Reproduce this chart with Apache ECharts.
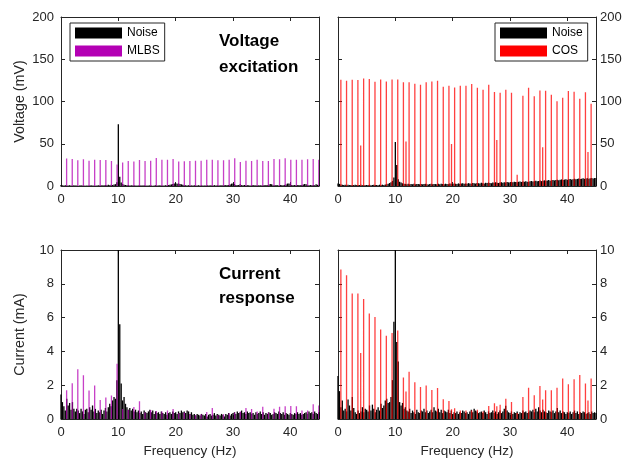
<!DOCTYPE html>
<html>
<head>
<meta charset="utf-8">
<script src="https://cdn.jsdelivr.net/npm/echarts@6/dist/echarts.min.js"></script>
<style>
  html, body { margin: 0; padding: 0; background: #fff; }
  #chart { width: 635px; height: 463px; }
</style>
</head>
<body>
<div id="chart"></div>
<script>
// Amplitude spectra of the excitation voltage and the current response
// for a multisine (COS) and an MLBS excitation, each with background noise.

// Noise spectra are sampled on a regular grid of bins starting at 0 Hz.
const NOISE_BIN_HZ = 0.25;

// Noise, voltage (mV) — MLBS run
const noiseVoltMlbs = [
  1.2, 0.8, 0.6, 1.0, 0.7, 0.5, 0.9, 0.6, 0.4, 0.8, 0.5, 0.7, 0.4, 0.6, 0.9, 0.5, 0.6, 0.4, 0.7, 0.5,
  0.6, 0.9, 0.5, 0.7, 0.4, 0.6, 0.8, 0.5, 1.0, 0.7, 0.9, 1.2, 0.8, 1.4, 1.0, 1.6, 1.2, 1.8, 2.2, 4.5,
  73, 11, 4.2, 2.4, 1.6, 1.2, 0.9, 1.1, 0.7, 0.8, 0.6, 0.9, 0.5, 0.7, 0.6, 0.8, 0.5, 0.6, 0.9, 0.5,
  0.7, 0.5, 0.8, 0.6, 0.4, 0.7, 0.9, 0.5, 0.6, 0.8, 0.5, 0.7, 0.6, 0.9, 0.7, 1.1, 1.4, 1.9, 2.4, 2.9,
  3.2, 2.8, 3.0, 2.4, 2.0, 1.5, 1.0, 0.8, 0.6, 0.9, 0.5, 0.7, 0.6, 0.8, 0.5, 0.7, 0.9, 0.6, 0.8, 0.5,
  0.7, 0.6, 0.9, 0.5, 0.8, 0.6, 0.7, 1.0, 0.6, 0.8, 0.5, 0.9, 0.7, 1.0, 0.8, 1.1, 0.9, 1.3, 1.8, 2.8,
  3.0, 2.4, 1.2, 0.9, 1.1, 2.0, 1.0, 0.8, 1.2, 0.7, 0.9, 1.0, 0.6, 0.8, 1.1, 0.7, 0.9, 0.6, 1.0, 0.8,
  0.7, 1.0, 0.8, 1.1, 0.9, 1.6, 2.5, 2.2, 1.0, 0.8, 1.2, 0.9, 0.7, 1.1, 0.8, 1.0, 1.3, 1.9, 2.9, 3.0,
  2.4, 1.2, 0.9, 1.1, 0.8, 1.0, 1.3, 0.9, 1.2, 1.8, 2.5, 2.0, 1.0, 0.9, 1.1, 0.8, 1.2, 1.0, 2.0, 1.4,
  1.0
];

// Noise, voltage (mV) — COS run
const noiseVoltCos = [
  3.0, 2.5, 1.8, 1.5, 1.2, 1.6, 1.0, 1.4, 1.1, 1.3, 0.9, 1.2, 1.5, 1.0, 1.3, 1.1, 1.4, 0.9, 1.2, 1.0,
  1.3, 1.1, 1.5, 1.0, 1.2, 1.4, 1.1, 1.3, 1.0, 1.5, 1.2, 1.6, 1.3, 1.8, 2.2, 2.8, 3.5, 4.5, 6.0, 10.0,
  52, 25, 8.0, 5.0, 4.0, 3.2, 2.8, 2.5, 2.2, 2.6, 2.0, 2.4, 2.1, 2.6, 2.0, 2.3, 2.5, 2.1, 2.4, 2.0,
  2.3, 2.6, 2.2, 1.9, 2.4, 2.7, 2.1, 2.5, 2.3, 2.0, 2.6, 2.2, 2.8, 2.4, 2.1, 2.7, 2.5, 2.2, 2.9, 2.6,
  2.4, 3.0, 2.7, 2.5, 3.1, 2.6, 2.9, 3.3, 2.7, 3.0, 2.8, 3.4, 3.1, 2.8, 3.5, 3.2, 2.9, 3.6, 3.3, 3.0,
  3.7, 3.4, 3.1, 3.8, 3.5, 4.1, 3.6, 3.3, 4.0, 3.7, 4.3, 3.9, 3.6, 4.2, 4.5, 3.9, 4.4, 4.1, 4.7, 4.3,
  4.0, 4.8, 4.5, 5.1, 4.6, 4.3, 5.0, 5.4, 4.8, 5.2, 4.9, 5.6, 5.1, 4.8, 5.5, 5.9, 5.3, 5.7, 6.1, 5.5,
  5.9, 6.4, 5.8, 6.2, 6.7, 6.1, 6.5, 7.0, 6.3, 6.8, 7.2, 6.6, 7.0, 7.5, 6.9, 7.3, 7.8, 7.1, 7.6, 8.0,
  7.4, 7.9, 8.3, 7.6, 8.1, 8.6, 7.9, 8.4, 8.8, 8.2, 8.7, 9.1, 8.5, 8.9, 9.3, 8.7, 9.2, 9.6, 9.0, 9.4,
  9.5
];

// Noise, current (mA) — MLBS run
const noiseCurMlbs = [
  1.45, 1.0, 0.75, 0.5, 1.2, 0.8, 0.95, 0.55, 1.0, 0.6, 0.45, 0.6, 0.5, 0.35, 0.6, 0.45, 0.3, 0.55, 0.6, 0.4,
  0.7, 0.55, 0.8, 0.45, 0.6, 0.35, 0.5, 0.4, 0.55, 0.3, 0.5, 0.65, 0.45, 0.7, 0.9, 0.75, 1.1, 1.3, 1.2, 2.3,
  12, 5.6, 2.1, 1.1, 1.3, 0.9, 0.7, 0.55, 0.65, 0.5, 0.6, 0.45, 0.55, 0.4, 0.5, 0.35, 0.45, 0.3, 0.5, 0.4,
  0.35, 0.45, 0.55, 0.4, 0.5, 0.3, 0.45, 0.35, 0.4, 0.3, 0.45, 0.35, 0.3, 0.4, 0.25, 0.35, 0.4, 0.3, 0.45, 0.35,
  0.4, 0.3, 0.45, 0.35, 0.5, 0.4, 0.45, 0.35, 0.5, 0.45, 0.3, 0.4, 0.25, 0.3, 0.2, 0.3, 0.25, 0.2, 0.3, 0.25,
  0.2, 0.3, 0.15, 0.25, 0.3, 0.2, 0.25, 0.35, 0.2, 0.3, 0.25, 0.2, 0.3, 0.25, 0.15, 0.3, 0.25, 0.35, 0.2, 0.3,
  0.35, 0.4, 0.3, 0.45, 0.35, 0.4, 0.5, 0.35, 0.4, 0.3, 0.45, 0.35, 0.4, 0.3, 0.35, 0.25, 0.4, 0.3, 0.35, 0.45,
  0.3, 0.4, 0.25, 0.35, 0.3, 0.4, 0.35, 0.25, 0.3, 0.4, 0.35, 0.3, 0.45, 0.35, 0.3, 0.4, 0.25, 0.35, 0.3, 0.25,
  0.35, 0.3, 0.25, 0.35, 0.3, 0.4, 0.3, 0.35, 0.25, 0.3, 0.35, 0.4, 0.3, 0.45, 0.35, 0.4, 0.3, 0.45, 0.35, 0.3,
  0.4
];

// Noise, current (mA) — COS run
const noiseCurCos = [
  2.55, 1.65, 0.7, 1.1, 0.5, 0.6, 0.45, 1.15, 0.8, 0.5, 1.3, 0.65, 0.4, 0.3, 0.5, 0.35, 0.45, 0.7, 0.4, 0.6,
  0.55, 0.45, 0.8, 0.5, 0.85, 0.6, 0.4, 0.55, 0.7, 0.5, 0.9, 0.65, 0.8, 1.1, 1.2, 0.95, 1.0, 1.3, 2.3, 5.75,
  12, 4.55, 3.4, 1.0, 0.8, 0.95, 0.6, 0.7, 0.5, 0.45, 0.6, 0.35, 0.5, 0.4, 0.3, 0.55, 0.4, 0.35, 0.5, 0.45,
  0.6, 0.4, 0.5, 0.35, 0.45, 0.55, 0.4, 0.7, 0.5, 0.45, 0.6, 0.4, 0.55, 0.35, 0.5, 0.45, 0.4, 0.55, 0.35, 0.5,
  0.3, 0.4, 0.35, 0.45, 0.3, 0.4, 0.35, 0.5, 0.45, 0.35, 0.4, 0.3, 0.45, 0.55, 0.4, 0.6, 0.5, 0.45, 0.35, 0.4,
  0.45, 0.35, 0.5, 0.4, 0.3, 0.45, 0.35, 0.4, 0.5, 0.35, 0.45, 0.3, 0.4, 0.5, 0.35, 0.45, 0.6, 0.78, 0.5, 0.4,
  0.35, 0.45, 0.3, 0.4, 0.35, 0.45, 0.3, 0.4, 0.35, 0.5, 0.4, 0.45, 0.35, 0.4, 0.5, 0.45, 0.55, 0.4, 0.6, 0.45,
  0.7, 0.5, 0.4, 0.55, 0.45, 0.4, 0.35, 0.5, 0.45, 0.4, 0.5, 0.35, 0.45, 0.65, 0.4, 0.5, 0.35, 0.45, 0.4, 0.3,
  0.4, 0.35, 0.45, 0.3, 0.4, 0.5, 0.35, 0.45, 0.3, 0.4, 0.35, 0.45, 0.4, 0.3, 0.35, 0.4, 0.3, 0.45, 0.35, 0.4,
  0.35
];

// MLBS harmonic lines (Hz) and their amplitudes
const mlbsFreq = [
  0.98, 1.96, 2.93, 3.91, 4.89, 5.87, 6.84, 7.82, 8.8, 9.78,
  10.75, 11.73, 12.71, 13.69, 14.66, 15.64, 16.62, 17.6, 18.57, 19.55,
  20.53, 21.51, 22.48, 23.46, 24.44, 25.42, 26.39, 27.37, 28.35, 29.33,
  30.3, 31.28, 32.26, 33.24, 34.21, 35.19, 36.17, 37.15, 38.12, 39.1,
  40.08, 41.06, 42.03, 43.01, 43.99, 44.97
];
const mlbsVolt = [
  32.4, 32, 30.4, 31.6, 30, 31.2, 30.8, 30.8, 29.6, 25.3,
  27.7, 29.6, 28.9, 30.8, 29.6, 30, 33.2, 31.2, 31.2, 32,
  28.9, 29.2, 29.6, 30, 30, 31.2, 31.2, 30.4, 30.4, 31.2,
  32.8, 28.5, 30, 29.6, 31.2, 29.6, 29.6, 32, 31.6, 32.8,
  31.2, 31.2, 31.2, 31.6, 32, 31.2
];
const mlbsCur = [
  1.7, 2.12, 2.95, 2.59, 1.68, 1.98, 1.13, 1.27, 1.39, 3.27,
  0.59, 0.53, 0.71, 1.05, 0.38, 0.53, 0.48, 0.44, 0.51, 0.59,
  0.34, 0.38, 0.28, 0.24, 0.28, 0.42, 0.65, 0.24, 0.28, 0.34,
  0.38, 0.44, 0.65, 0.59, 0.44, 0.73, 0.38, 0.61, 0.73, 0.75,
  0.77, 0.75, 0.5, 0.5, 0.87, 0.8
];

// COS lines (Hz) and their amplitudes
const cosFreq = [
  0.5, 1.49, 2.48, 3.47, 3.96, 4.47, 5.46, 6.45, 7.44, 8.43,
  9.43, 10.42, 11.41, 11.86, 12.4, 13.4, 14.39, 15.38, 16.37, 17.36,
  18.36, 19.35, 19.8, 20.34, 21.33, 22.32, 23.32, 24.31, 25.3, 26.29,
  27.29, 27.7, 28.28, 29.27, 30.26, 31.25, 32.25, 33.24, 34.23, 35.22,
  35.7, 36.21, 37.21, 38.2, 39.19, 40.18, 41.18, 42.17, 43.16, 43.6,
  44.15
];
const cosVolt = [
  125.7, 124.5, 125.7, 125.3, 47.8, 127.3, 126.5, 123.3, 126, 123.7,
  126, 126, 122.9, 52.6, 122.9, 121, 119.8, 122.9, 123.7, 124.5,
  117.4, 118.6, 49.8, 116.6, 118.6, 118.6, 120.6, 116.2, 113.8, 119.8,
  111.1, 54.5, 110.3, 113.8, 110.3, 13.4, 106.7, 116.2, 106.3, 113,
  45.8, 112.6, 107.9, 100.4, 104.3, 112.3, 111.5, 103.2, 111, 40.3,
  97.2
];
const cosCur = [
  8.85, 8.5, 7.43, 7.43, 3.9, 7.1, 6.24, 6.04, 5.29, 4.93,
  5.09, 5.23, 2.46, 1.62, 2.79, 2.18, 1.9, 1.98, 1.72, 1.84,
  1.17, 1.07, 0.57, 0.63, 0.5, 0.5, 0.5, 0.55, 0.45, 0.77,
  0.93, 0.75, 0.85, 1.2, 1.0, 0.35, 1.3, 1.85, 1.4, 1.95,
  1.15, 1.7, 1.7, 1.85, 2.4, 2.05, 2.35, 2.6, 2.1, 1.1,
  2.4
];

// Axis ticks
const freqRange = [0, 45];
const freqTickStep = 10;
const voltRange = [0, 200];
const voltTickStep = 50;
const curRange = [0, 10];
const curTickStep = 2;

// ---------------------------------------------------------------------

const FONT = "'Liberation Sans', Arial, Helvetica, sans-serif";
const AX = '#262626';
const C_NOISE = '#000000';
const C_MLBS = '#b400b4';
const C_COS = '#ff0000';

const noisePairs = (arr) => arr.map((v, i) => [i * NOISE_BIN_HZ, v]);
const linePairs = (f, v) => f.map((x, i) => [x, v[i]]);

const grids = [
  { left: 61, top: 17, width: 258, height: 169 },
  { left: 338, top: 17, width: 258, height: 169 },
  { left: 61, top: 250, width: 258, height: 169 },
  { left: 338, top: 250, width: 258, height: 169 }
];

function xAxisFor(gi, position, withLabels, name) {
  return {
    type: 'value', gridIndex: gi, position: position,
    min: freqRange[0], max: freqRange[1], interval: freqTickStep,
    axisLine: { show: true, onZero: false, lineStyle: { color: AX, width: 1 } },
    axisTick: { show: true, inside: true, length: 4, lineStyle: { color: AX, width: 1 } },
    axisLabel: { show: withLabels, showMaxLabel: false, margin: 7, fontSize: 13, color: AX, fontFamily: FONT },
    splitLine: { show: false },
    name: name || '', nameLocation: 'middle', nameGap: 25,
    nameTextStyle: { fontSize: 13.5, color: AX, fontFamily: FONT }
  };
}

function yAxisFor(gi, position, withLabels, range, step, name) {
  return {
    type: 'value', gridIndex: gi, position: position,
    min: range[0], max: range[1], interval: step,
    axisLine: { show: true, onZero: false, lineStyle: { color: AX, width: 1 } },
    axisTick: { show: true, inside: true, length: 4, lineStyle: { color: AX, width: 1 } },
    axisLabel: { show: withLabels, margin: position === 'left' ? 7 : 4, fontSize: 13, color: AX, fontFamily: FONT },
    splitLine: { show: false },
    name: name || '', nameLocation: 'middle', nameGap: 34,
    nameTextStyle: { fontSize: 14.3, color: AX, fontFamily: FONT }
  };
}

const xAxes = [], yAxes = [];
grids.forEach((g, gi) => {
  const bottomRow = gi >= 2;
  const rightCol = gi % 2 === 1;
  xAxes.push(xAxisFor(gi, 'bottom', true, bottomRow ? 'Frequency (Hz)' : ''));
  xAxes.push(xAxisFor(gi, 'top', false));
  const range = bottomRow ? curRange : voltRange;
  const step = bottomRow ? curTickStep : voltTickStep;
  const yName = rightCol ? '' : (bottomRow ? 'Current (mA)' : 'Voltage (mV)');
  yAxes.push(yAxisFor(gi, 'left', !rightCol, range, step, yName));
  yAxes.push(yAxisFor(gi, 'right', rightCol, range, step));
});

function noiseSeries(gi, arr) {
  return {
    name: 'Noise', type: 'bar', xAxisIndex: 2 * gi, yAxisIndex: 2 * gi,
    data: noisePairs(arr), barWidth: 1.3, clip: true,
    itemStyle: { color: C_NOISE }, silent: true
  };
}
// Spectral lines are stroked as thin stems (large mode), so they keep
// their sub-pixel positions instead of being snapped to whole pixels.
function lineSeries(gi, name, color, f, v) {
  return {
    name: name, type: 'bar', xAxisIndex: 2 * gi + 1, yAxisIndex: 2 * gi,
    data: linePairs(f, v), barWidth: 1.3, clip: true,
    large: true, largeThreshold: 1,
    itemStyle: { color: color, opacity: 0.75 }, silent: true
  };
}

const series = [
  noiseSeries(0, noiseVoltMlbs), lineSeries(0, 'MLBS', C_MLBS, mlbsFreq, mlbsVolt),
  noiseSeries(1, noiseVoltCos), lineSeries(1, 'COS', C_COS, cosFreq, cosVolt),
  noiseSeries(2, noiseCurMlbs), lineSeries(2, 'MLBS', C_MLBS, mlbsFreq, mlbsCur),
  noiseSeries(3, noiseCurCos), lineSeries(3, 'COS', C_COS, cosFreq, cosCur)
];

function legendAt(left, names, colors) {
  return {
    left: left, top: 23, orient: 'vertical', icon: 'rect',
    itemWidth: 47, itemHeight: 11, itemGap: 6,
    padding: [4, 5, 4, 5],
    borderColor: AX, borderWidth: 1, backgroundColor: '#fff',
    selectedMode: false,
    textStyle: { fontSize: 12, color: '#000', fontFamily: FONT },
    data: names.map((n, i) => ({ name: n, itemStyle: { color: colors[i], opacity: 1 } }))
  };
}

function label(x, y, text) {
  return {
    type: 'text', x: x, y: y, silent: true,
    style: { text: text, fill: '#000', fontSize: 17, fontWeight: 'bold', fontFamily: FONT, verticalAlign: 'middle' }
  };
}

const chart = echarts.init(document.getElementById('chart'), null, { renderer: 'canvas' });
chart.setOption({
  animation: false,
  backgroundColor: '#ffffff',
  grid: grids.map(g => Object.assign({ containLabel: false }, g)),
  xAxis: xAxes,
  yAxis: yAxes,
  legend: [
    legendAt(70, ['Noise', 'MLBS'], [C_NOISE, C_MLBS]),
    legendAt(495, ['Noise', 'COS'], [C_NOISE, C_COS])
  ],
  tooltip: { show: false },
  graphic: [
    label(219, 41, 'Voltage'),
    label(219, 67, 'excitation'),
    label(219, 274, 'Current'),
    label(219, 298, 'response')
  ],
  series: series
});
</script>
</body>
</html>
